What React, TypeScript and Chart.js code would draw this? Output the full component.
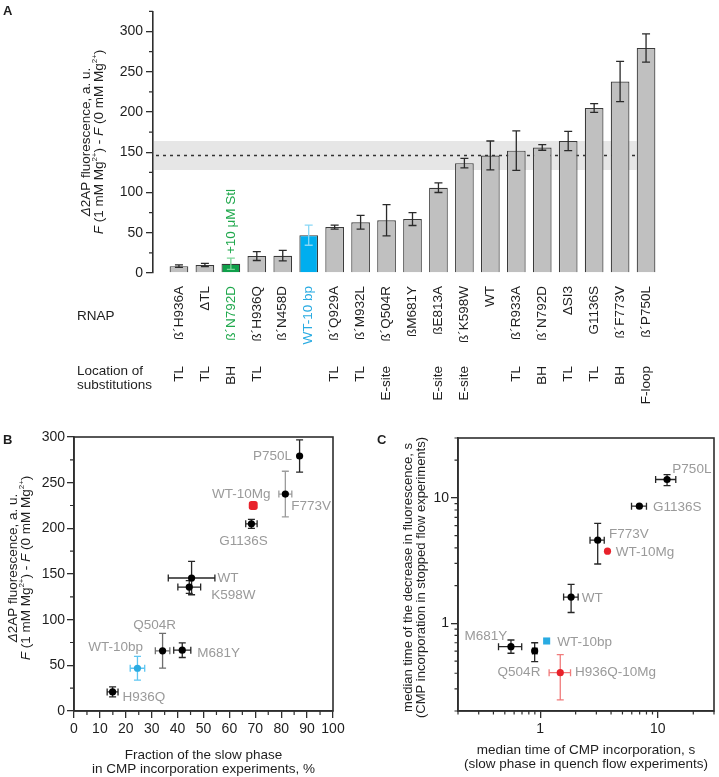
import React, { useEffect, useRef } from "react";
import { Chart, registerables } from "chart.js";

Chart.register(...registerables);

const FONT = "'Liberation Sans', Arial, Helvetica, sans-serif";
const AXIS = "#2e2e2e";
const TEXT = "#1e1e1e";
const LABEL_GRAY = "#9a9a9a";
const RED = "#e8222b";
const BLUE = "#29abe2";
const GREEN = "#1fa84c";

// ---------------- Panel A data ----------------
const rnapLabels = ["ß´H936A", "ΔTL", "ß´N792D", "ß´H936Q", "ß´N458D", "WT-10 bp", "ß´Q929A", "ß´M932L", "ß´Q504R", "ßM681Y", "ßE813A", "ß´K598W", "WT", "ß´R933A", "ß´N792D", "ΔSI3", "G1136S", "ß´F773V", "ß´P750L"];
const substitutionSites = ["TL", "TL", "BH", "TL", "", "", "TL", "TL", "E-site", "", "E-site", "E-site", "", "TL", "BH", "TL", "TL", "BH", "F-loop"];
const fluorescence = [8.5, 10, 11.5, 21, 21.5, 47, 57, 63, 65.5, 67, 106, 136.5, 146, 152, 156, 164, 205, 238, 279.5];
const fluorescenceErr = [1.5, 2, 7, 5.5, 6.5, 12.5, 2.4, 8.5, 19.5, 8, 6, 6, 18, 24.5, 3.5, 12, 5.5, 25, 17.5];
const aMajorTicks = [0, 50, 100, 150, 200, 250, 300];
const aMinorTicks = [25, 75, 125, 175, 225, 275, 325];
const stlIndex = 2;
const shortDnaIndex = 5;
const wtIndex = 12;
const stlNote = "+10 μM Stl";

// ---------------- Panel B data ----------------
const bNames = ["H936Q", "WT-10bp", "Q504R", "M681Y", "K598W", "WT", "G1136S", "WT-10Mg", "F773V", "P750L"];
const bSlowFraction = [14.9, 24.5, 34.2, 41.8, 44.5, 45.4, 68.5, 69.2, 81.6, 87.1];
const bSlowFractionErr = [2.1, 2.8, 2.8, 3.3, 4.4, 9, 2.2, 0, 2.5, 0];
const bFluor = [20.9, 46.8, 65.9, 66.6, 135.7, 145.6, 204.9, 225, 237.5, 279.2];
const bFluorErr = [5.5, 13, 19, 8, 7, 18.3, 5, 0, 25, 17.7];
const bXMajor = [0, 10, 20, 30, 40, 50, 60, 70, 80, 90, 100];
const bXMinor = [5, 15, 25, 35, 45, 55, 65, 75, 85, 95];
const bYMajor = [0, 50, 100, 150, 200, 250, 300];
const bYMinor = [25, 75, 125, 175, 225, 275];

// ---------------- Panel C data ----------------
const cNames = ["M681Y", "Q504R", "WT-10bp", "H936Q-10Mg", "WT", "WT-10Mg", "F773V", "G1136S", "P750L"];
const cIncorpTime = [0.564, 0.897, 1.134, 1.48, 1.83, 3.73, 3.08, 6.96, 11.97];
const cIncorpLo = [0.442, 0.86, 1.134, 1.19, 1.58, 3.73, 2.65, 5.97, 9.57];
const cIncorpHi = [0.696, 0.94, 1.134, 1.81, 2.1, 3.73, 3.5, 8.0, 14.2];
const cFluorTime = [0.651, 0.602, 0.723, 0.404, 1.62, 3.76, 4.6, 8.59, 14.0];
const cFluorLo = [0.577, 0.495, 0.723, 0.245, 1.22, 3.76, 2.97, 8.59, 12.5];
const cFluorHi = [0.736, 0.7, 0.723, 0.563, 2.04, 3.76, 6.25, 8.59, 15.3];
const cMajor = [1, 10];
const cMinor = [0.2, 0.3, 0.4, 0.5, 0.6, 0.7, 0.8, 0.9, 2, 3, 4, 5, 6, 7, 8, 9, 20, 30];

// ---------------- styles (kept apart from data) ----------------
type Anchor = [number, number, CanvasTextAlign];
const bLabelAnchor: Record<string, Anchor> = {
  "H936Q": [10, 5, "left"],
  "WT-10bp": [5.5, -21, "right"],
  "Q504R": [-8, -26, "center"],
  "M681Y": [15, 3, "left"],
  "K598W": [22, 8, "left"],
  "WT": [26, 0, "left"],
  "G1136S": [-8, 17, "center"],
  "WT-10Mg": [-12, -11.5, "center"],
  "F773V": [6, 12, "left"],
  "P750L": [-7.5, 0.5, "right"],
};
const cLabelAnchor: Record<string, Anchor> = {
  "M681Y": [-3.7, -10, "right"],
  "Q504R": [5.7, 21, "right"],
  "WT-10bp": [10.7, 1, "left"],
  "H936Q-10Mg": [14.8, 0, "left"],
  "WT": [10.6, 1, "left"],
  "WT-10Mg": [8.3, 1, "left"],
  "F773V": [11.3, -6, "left"],
  "G1136S": [13.7, 0.7, "left"],
  "P750L": [5.3, -10.5, "left"],
};

type Seg = { t: string; i?: boolean; sup?: boolean };

function richText(ctx: CanvasRenderingContext2D, segs: Seg[], cx: number, cy: number, size: number, color: string, vertical: boolean) {
  ctx.save();
  ctx.translate(cx, cy);
  if (vertical) ctx.rotate(-Math.PI / 2);
  const fontOf = (s: Seg) => `${s.i ? "italic " : ""}${s.sup ? Math.round(size * 0.62) : size}px ${FONT}`;
  const widths = segs.map((s) => {
    ctx.font = fontOf(s);
    return ctx.measureText(s.t).width;
  });
  const total = widths.reduce((a, b) => a + b, 0);
  let x = -total / 2;
  ctx.fillStyle = color;
  ctx.textAlign = "left";
  ctx.textBaseline = "middle";
  segs.forEach((s, k) => {
    ctx.font = fontOf(s);
    ctx.fillText(s.t, x, s.sup ? -size * 0.36 : 0);
    x += widths[k];
  });
  ctx.restore();
}

function text(ctx: CanvasRenderingContext2D, str: string, x: number, y: number, o: { size: number; color?: string; align?: CanvasTextAlign; baseline?: CanvasTextBaseline; bold?: boolean; rotate?: boolean }) {
  ctx.save();
  ctx.translate(x, y);
  if (o.rotate) ctx.rotate(-Math.PI / 2);
  ctx.font = `${o.bold ? "bold " : ""}${o.size}px ${FONT}`;
  ctx.fillStyle = o.color || TEXT;
  ctx.textAlign = o.align || "left";
  ctx.textBaseline = o.baseline || "middle";
  ctx.fillText(str, 0, 0);
  ctx.restore();
}

function minorTicks(chart: any, axisId: string, values: number[], len: number) {
  const s = chart.scales[axisId];
  const ca = chart.chartArea;
  const ctx: CanvasRenderingContext2D = chart.ctx;
  ctx.save();
  ctx.strokeStyle = AXIS;
  ctx.lineWidth = 1.2;
  ctx.beginPath();
  values.forEach((v) => {
    const p = s.getPixelForValue(v);
    if (s.isHorizontal()) {
      ctx.moveTo(p, ca.bottom);
      ctx.lineTo(p, ca.bottom + len);
    } else {
      ctx.moveTo(ca.left, p);
      ctx.lineTo(ca.left - len, p);
    }
  });
  ctx.stroke();
  ctx.restore();
}

function vErr(ctx: CanvasRenderingContext2D, x: number, yA: number, yB: number, cap: number) {
  ctx.moveTo(x, yA);
  ctx.lineTo(x, yB);
  ctx.moveTo(x - cap, yA);
  ctx.lineTo(x + cap, yA);
  ctx.moveTo(x - cap, yB);
  ctx.lineTo(x + cap, yB);
}
function hErr(ctx: CanvasRenderingContext2D, y: number, xA: number, xB: number, cap: number) {
  ctx.moveTo(xA, y);
  ctx.lineTo(xB, y);
  ctx.moveTo(xA, y - cap);
  ctx.lineTo(xA, y + cap);
  ctx.moveTo(xB, y - cap);
  ctx.lineTo(xB, y + cap);
}

function drawFrame(chart: any) {
  const ca = chart.chartArea;
  const ctx: CanvasRenderingContext2D = chart.ctx;
  ctx.save();
  ctx.strokeStyle = AXIS;
  ctx.lineWidth = 1.6;
  ctx.strokeRect(ca.left, ca.top, ca.right - ca.left, ca.bottom - ca.top);
  ctx.restore();
}

const axisCommon = (size: number, padding: number) => ({
  bounds: "data" as const,
  offset: false,
  grid: { drawOnChartArea: false, drawTicks: true, tickLength: 7, color: AXIS, lineWidth: 1.3, offset: false },
  border: { display: true, color: AXIS, width: 1.6 },
  ticks: { color: TEXT, font: { family: FONT, size }, padding, maxRotation: 0, autoSkip: false },
});

function makePanelA(canvas: HTMLCanvasElement) {
  const barColor = fluorescence.map((_, i) => (i === stlIndex ? "#0fa04a" : i === shortDnaIndex ? "#00aeef" : "#c0c0c0"));
  const errColor = fluorescence.map((_, i) => (i === stlIndex ? "#7fd69a" : i === shortDnaIndex ? "#8ad8f6" : "#2a2a2a"));
  const labelColor = fluorescence.map((_, i) => (i === stlIndex ? GREEN : i === shortDnaIndex ? BLUE : TEXT));
  const plugin = {
    id: "panelA",
    beforeDatasetsDraw(chart: any) {
      const { ctx, chartArea: ca } = chart;
      const y = chart.scales.y;
      const meta = chart.getDatasetMeta(0);
      const last = meta.data[meta.data.length - 1];
      const bandEnd = last.x - last.width / 2;
      const wt = fluorescence[wtIndex];
      const e = fluorescenceErr[wtIndex];
      const yHi = y.getPixelForValue(wt + e);
      const yLo = y.getPixelForValue(wt - e);
      ctx.save();
      ctx.fillStyle = "#e6e6e6";
      ctx.fillRect(ca.left + 1, yHi, bandEnd - ca.left - 1, yLo - yHi);
      ctx.setLineDash([3, 4]);
      ctx.strokeStyle = "#333";
      ctx.lineWidth = 1.6;
      const yl = y.getPixelForValue(wt);
      ctx.beginPath();
      ctx.moveTo(ca.left + 3, yl);
      ctx.lineTo(bandEnd, yl);
      ctx.stroke();
      ctx.restore();
    },
    afterDatasetsDraw(chart: any) {
      const ctx: CanvasRenderingContext2D = chart.ctx;
      const y = chart.scales.y;
      const meta = chart.getDatasetMeta(0);
      ctx.save();
      ctx.lineWidth = 1.3;
      meta.data.forEach((bar: any, i: number) => {
        ctx.strokeStyle = errColor[i];
        ctx.beginPath();
        vErr(ctx, bar.x, y.getPixelForValue(fluorescence[i] + fluorescenceErr[i]), y.getPixelForValue(fluorescence[i] - fluorescenceErr[i]), 4);
        ctx.stroke();
      });
      ctx.restore();
    },
    afterDraw(chart: any) {
      const ctx: CanvasRenderingContext2D = chart.ctx;
      const x = chart.scales.x;
      const y = chart.scales.y;
      const ca = chart.chartArea;
      minorTicks(chart, "y", aMinorTicks, 4);
      rnapLabels.forEach((lab, i) => {
        const px = x.getPixelForValue(i);
        text(ctx, lab, px, ca.bottom + 13, { size: 13.5, color: labelColor[i], align: "right", rotate: true });
        if (substitutionSites[i]) text(ctx, substitutionSites[i], px, 366, { size: 13.5, align: "right", rotate: true });
      });
      text(ctx, "RNAP", 77, 316, { size: 13.5 });
      text(ctx, "Location of", 77, 371, { size: 13.5 });
      text(ctx, "substitutions", 77, 385.5, { size: 13.5 });
      const gx = x.getPixelForValue(stlIndex);
      text(ctx, stlNote, gx, y.getPixelForValue(fluorescence[stlIndex] + fluorescenceErr[stlIndex]) - 4, { size: 13.5, color: GREEN, align: "left", rotate: true });
      richText(ctx, [{ t: "Δ", i: true }, { t: "2AP fluorescence, a. u." }], 86, 142, 13.5, TEXT, true);
      richText(ctx, [{ t: "F", i: true }, { t: " (1 mM Mg" }, { t: "2+", sup: true }, { t: ") - " }, { t: "F", i: true }, { t: " (0 mM Mg" }, { t: "2+", sup: true }, { t: ")" }], 99.5, 142, 13.5, TEXT, true);
      text(ctx, "A", 3, 11, { size: 13, bold: true });
    },
  };
  return new Chart(canvas, {
    type: "bar",
    data: {
      datasets: [
        {
          data: fluorescence.map((v, i) => ({ x: i, y: v })),
          backgroundColor: barColor,
          borderColor: "#3a3a3a",
          borderWidth: 1.2,
          barPercentage: 0.72,
          categoryPercentage: 1,
        },
      ],
    },
    options: {
      animation: false,
      responsive: false,
      events: [],
      layout: { padding: { left: 93, right: 47, top: 0, bottom: 147 } },
      plugins: { legend: { display: false }, tooltip: { enabled: false } },
      scales: {
        x: { type: "linear", min: -1, max: rnapLabels.length, display: false, bounds: "data", offset: false, grid: { offset: false } },
        y: {
          type: "linear",
          min: 0,
          max: 325,
          ...axisCommon(14, 3),
          afterFit: (s: any) => {
            s.width = 60;
          },
          afterBuildTicks: (s: any) => {
            s.ticks = aMajorTicks.map((v) => ({ value: v }));
          },
        },
      },
    },
    plugins: [plugin],
  } as any);
}

function makePanelB(canvas: HTMLCanvasElement) {
  const ptColor = bNames.map((n) => (n === "WT-10Mg" ? RED : n === "WT-10bp" ? BLUE : "#000"));
  const ptStyle = bNames.map((n) => (n === "WT-10Mg" ? "rectRounded" : "circle"));
  const ptRadius = bNames.map((n) => (n === "WT-10Mg" ? 5.2 : 3.6));
  const errColor = bNames.map((n) => (n === "F773V" ? "#9c9c9c" : n === "Q504R" ? "#6e6e6e" : n === "WT-10bp" ? "#5ec6f2" : "#262626"));
  const plugin = {
    id: "panelB",
    beforeDatasetsDraw(chart: any) {
      const ctx: CanvasRenderingContext2D = chart.ctx;
      const x = chart.scales.x;
      const y = chart.scales.y;
      ctx.save();
      ctx.lineWidth = 1.3;
      bNames.forEach((_, i) => {
        const px = x.getPixelForValue(bSlowFraction[i]);
        const py = y.getPixelForValue(bFluor[i]);
        ctx.strokeStyle = errColor[i];
        ctx.beginPath();
        if (bFluorErr[i] > 0) vErr(ctx, px, y.getPixelForValue(bFluor[i] + bFluorErr[i]), y.getPixelForValue(bFluor[i] - bFluorErr[i]), 3.5);
        if (bSlowFractionErr[i] > 0) hErr(ctx, py, x.getPixelForValue(bSlowFraction[i] - bSlowFractionErr[i]), x.getPixelForValue(bSlowFraction[i] + bSlowFractionErr[i]), 3.5);
        ctx.stroke();
      });
      ctx.restore();
    },
    afterDraw(chart: any) {
      const ctx: CanvasRenderingContext2D = chart.ctx;
      const x = chart.scales.x;
      const y = chart.scales.y;
      const ca = chart.chartArea;
      drawFrame(chart);
      minorTicks(chart, "x", bXMinor, 4);
      minorTicks(chart, "y", bYMinor, 4);
      bNames.forEach((n, i) => {
        const [dx, dy, al] = bLabelAnchor[n];
        text(ctx, n, x.getPixelForValue(bSlowFraction[i]) + dx, y.getPixelForValue(bFluor[i]) + dy, { size: 13.5, color: LABEL_GRAY, align: al });
      });
      const cy = (ca.top + ca.bottom) / 2;
      richText(ctx, [{ t: "Δ", i: true }, { t: "2AP fluorescence, a. u." }], 13, cy - 6, 13.5, TEXT, true);
      richText(ctx, [{ t: "F", i: true }, { t: " (1 mM Mg" }, { t: "2+", sup: true }, { t: ") - " }, { t: "F", i: true }, { t: " (0 mM Mg" }, { t: "2+", sup: true }, { t: ")" }], 26.5, cy - 6, 13.5, TEXT, true);
      const cx = (ca.left + ca.right) / 2;
      text(ctx, "Fraction of the slow phase", cx, 335, { size: 13.5, align: "center" });
      text(ctx, "in CMP incorporation experiments, %", cx, 349, { size: 13.5, align: "center" });
      text(ctx, "B", 3, 24, { size: 13, bold: true, baseline: "alphabetic" });
    },
  };
  return new Chart(canvas, {
    type: "scatter",
    data: {
      datasets: [
        {
          data: bSlowFraction.map((v, i) => ({ x: v, y: bFluor[i] })),
          pointBackgroundColor: ptColor,
          pointBorderColor: ptColor,
          pointBorderWidth: 0,
          pointStyle: ptStyle,
          pointRadius: ptRadius,
        },
      ],
    },
    options: {
      animation: false,
      responsive: false,
      events: [],
      layout: { padding: { left: 34, right: 27, top: 17, bottom: 36 } },
      plugins: { legend: { display: false }, tooltip: { enabled: false } },
      scales: {
        x: {
          type: "linear",
          min: 0,
          max: 100,
          ...axisCommon(14, 3),
          afterFit: (s: any) => {
            s.height = 30;
          },
          afterBuildTicks: (s: any) => {
            s.ticks = bXMajor.map((v) => ({ value: v }));
          },
        },
        y: {
          type: "linear",
          min: 0,
          max: 300,
          ...axisCommon(14, 2),
          afterFit: (s: any) => {
            s.width = 40;
          },
          afterBuildTicks: (s: any) => {
            s.ticks = bYMajor.map((v) => ({ value: v }));
          },
        },
      },
    },
    plugins: [plugin],
  } as any);
}

function makePanelC(canvas: HTMLCanvasElement) {
  const ptColor = cNames.map((n) => (n.indexOf("10Mg") >= 0 ? RED : n === "WT-10bp" ? BLUE : "#000"));
  const ptStyle = cNames.map((n) => (n === "WT-10bp" ? "rect" : "circle"));
  const ptRadius = cNames.map((n) => (n === "WT-10bp" ? 5 : 3.6));
  const errColor = cNames.map((n) => (n === "H936Q-10Mg" ? "#f07b7b" : "#262626"));
  const plugin = {
    id: "panelC",
    beforeDatasetsDraw(chart: any) {
      const ctx: CanvasRenderingContext2D = chart.ctx;
      const x = chart.scales.x;
      const y = chart.scales.y;
      ctx.save();
      ctx.lineWidth = 1.3;
      cNames.forEach((_, i) => {
        const px = x.getPixelForValue(cIncorpTime[i]);
        const py = y.getPixelForValue(cFluorTime[i]);
        ctx.strokeStyle = errColor[i];
        ctx.beginPath();
        if (cFluorHi[i] !== cFluorLo[i]) vErr(ctx, px, y.getPixelForValue(cFluorHi[i]), y.getPixelForValue(cFluorLo[i]), 3.5);
        if (cIncorpHi[i] !== cIncorpLo[i]) hErr(ctx, py, x.getPixelForValue(cIncorpLo[i]), x.getPixelForValue(cIncorpHi[i]), 3.5);
        ctx.stroke();
      });
      ctx.restore();
    },
    afterDraw(chart: any) {
      const ctx: CanvasRenderingContext2D = chart.ctx;
      const x = chart.scales.x;
      const y = chart.scales.y;
      const ca = chart.chartArea;
      drawFrame(chart);
      minorTicks(chart, "x", cMinor, 3.5);
      minorTicks(chart, "y", cMinor, 3.5);
      cNames.forEach((n, i) => {
        const [dx, dy, al] = cLabelAnchor[n];
        text(ctx, n, x.getPixelForValue(cIncorpTime[i]) + dx, y.getPixelForValue(cFluorTime[i]) + dy, { size: 13.5, color: LABEL_GRAY, align: al });
      });
      const cy = (ca.top + ca.bottom) / 2;
      text(ctx, "median time of the decrease in fluorescence, s", 48, cy + 3, { size: 13, align: "center", rotate: true });
      text(ctx, "(CMP incorporation in stopped flow experiments)", 61.5, cy + 3, { size: 13, align: "center", rotate: true });
      const cx = (ca.left + ca.right) / 2;
      text(ctx, "median time of CMP incorporation, s", cx, 330, { size: 13.5, align: "center" });
      text(ctx, "(slow phase in quench flow experiments)", cx, 344, { size: 13.5, align: "center" });
      text(ctx, "C", 17, 24, { size: 13, bold: true, baseline: "alphabetic" });
    },
  };
  const logAxis = (size: number, padding: number) => ({
    type: "logarithmic",
    min: 0.2,
    max: 30,
    ...axisCommon(size, padding),
    afterBuildTicks: (s: any) => {
      s.ticks = cMajor.map((v) => ({ value: v, major: true }));
    },
  });
  const xAxis: any = logAxis(14, 3);
  xAxis.ticks.callback = (v: number) => String(v);
  xAxis.afterFit = (s: any) => {
    s.height = 30;
  };
  const yAxis: any = logAxis(14, 2);
  yAxis.ticks.callback = (v: number) => String(v);
  yAxis.afterFit = (s: any) => {
    s.width = 40;
  };
  return new Chart(canvas, {
    type: "scatter",
    data: {
      datasets: [
        {
          data: cIncorpTime.map((v, i) => ({ x: v, y: cFluorTime[i] })),
          pointBackgroundColor: ptColor,
          pointBorderColor: ptColor,
          pointBorderWidth: 0,
          pointStyle: ptStyle,
          pointRadius: ptRadius,
        },
      ],
    },
    options: {
      animation: false,
      responsive: false,
      events: [],
      layout: { padding: { left: 58, right: 1, top: 18, bottom: 36 } },
      plugins: { legend: { display: false }, tooltip: { enabled: false } },
      scales: { x: xAxis, y: yAxis },
    },
    plugins: [plugin],
  } as any);
}

export default function App() {
  const aRef = useRef<HTMLCanvasElement>(null);
  const bRef = useRef<HTMLCanvasElement>(null);
  const cRef = useRef<HTMLCanvasElement>(null);
  useEffect(() => {
    const charts = [makePanelA(aRef.current!), makePanelB(bRef.current!), makePanelC(cRef.current!)];
    return () => charts.forEach((c) => c.destroy());
  }, []);
  return (
    <div style={{ position: "absolute", left: 0, top: 0, width: 719, height: 777, background: "#fff" }}>
      <canvas ref={aRef} width={719} height={420} style={{ position: "absolute", left: 0, top: 0 }} />
      <canvas ref={bRef} width={360} height={357} style={{ position: "absolute", left: 0, top: 420 }} />
      <canvas ref={cRef} width={359} height={357} style={{ position: "absolute", left: 360, top: 420 }} />
    </div>
  );
}
